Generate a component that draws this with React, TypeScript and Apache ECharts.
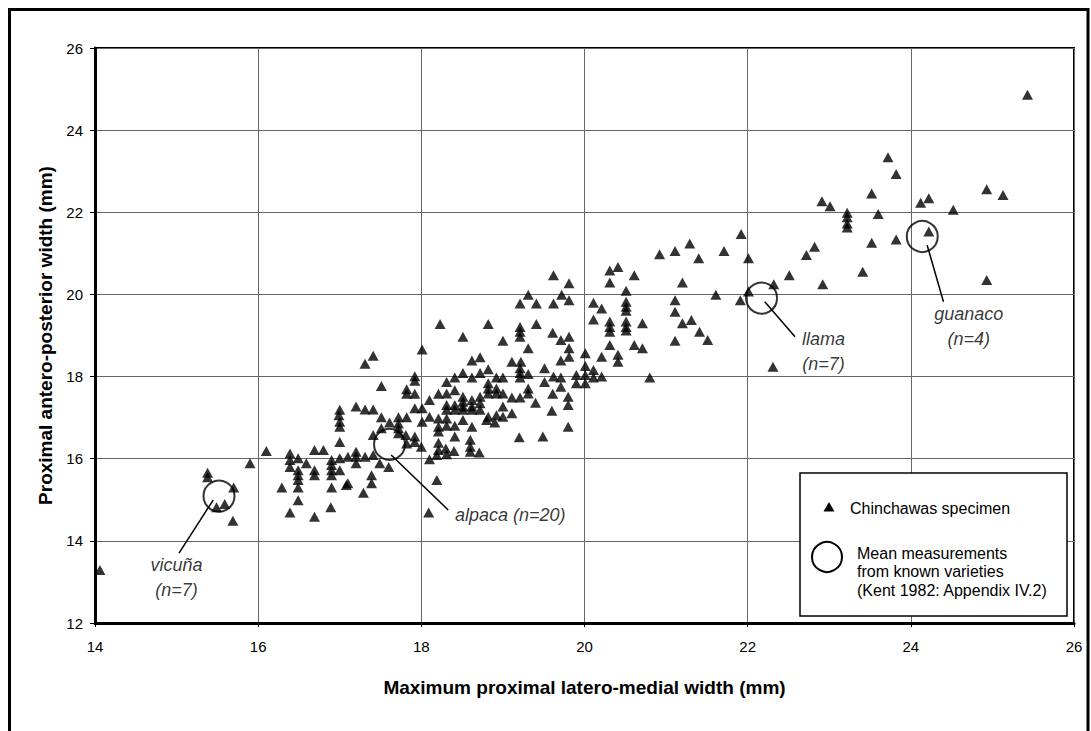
import React, { useEffect, useRef } from "react";
import * as echarts from "echarts";

// Chinchawas specimens: [max proximal latero-medial width, proximal antero-posterior width] (mm)
const specimens: [number, number][] = [
  [14.06, 13.29], [16.10, 16.19], [15.90, 15.89], [15.38, 15.55], [15.38, 15.66], [15.70, 15.30], [15.49, 14.82], [15.59, 14.90], [15.69, 14.49],
  [16.39, 16.13], [16.39, 15.97], [16.39, 15.80], [16.49, 16.01], [16.59, 15.89], [16.49, 15.72], [16.49, 15.60], [16.49, 15.48], [16.49, 15.30],
  [16.29, 15.30], [16.49, 14.99], [16.39, 14.69], [16.69, 16.21], [16.80, 16.21], [16.69, 15.72], [16.69, 15.60], [16.69, 14.59], [16.90, 15.97],
  [16.90, 15.85], [16.90, 15.72], [17.00, 16.01], [17.00, 15.72], [16.90, 15.30], [16.89, 14.82], [17.00, 17.19], [17.00, 16.90], [17.00, 16.78],
  [17.00, 16.41], [17.08, 15.36],
  [19.21, 19.78], [18.23, 19.28], [18.82, 19.28], [18.51, 18.97], [19.00, 18.87], [19.21, 19.21], [19.21, 19.09], [19.21, 18.97], [18.01, 18.66],
  [17.41, 18.51], [17.31, 18.31], [18.72, 18.47], [18.62, 18.39], [19.11, 18.36], [19.22, 18.36], [18.51, 18.09], [18.62, 17.98], [18.72, 18.09],
  [18.82, 18.18], [18.92, 17.98], [19.00, 17.98], [19.21, 18.09], [19.21, 17.98], [18.41, 17.98], [18.31, 17.87], [18.41, 17.67], [18.31, 17.59],
  [17.92, 18.01], [17.92, 17.90], [17.51, 17.77], [17.82, 17.69], [17.82, 17.58], [17.92, 17.58], [18.21, 17.58], [18.10, 17.43], [18.82, 17.84],
  [18.82, 17.71], [18.82, 17.59], [18.92, 17.71], [18.92, 17.59], [19.00, 17.59], [19.11, 17.49], [19.21, 17.49], [18.51, 17.51], [18.51, 17.39],
  [18.62, 17.43], [18.72, 17.51], [18.72, 17.35], [18.31, 17.31], [18.41, 17.31], [18.51, 17.27], [18.31, 17.19], [18.41, 17.19], [18.51, 17.19],
  [18.62, 17.27], [18.62, 17.19], [18.72, 17.19], [18.82, 17.02], [18.92, 17.06], [19.00, 17.27], [19.11, 17.11], [16.99, 17.06], [17.20, 17.27],
  [17.31, 17.20], [17.41, 17.20], [17.51, 17.01], [17.61, 16.88], [17.72, 17.01], [17.82, 17.01], [17.72, 16.86], [17.72, 16.74], [17.72, 16.62],
  [17.51, 16.74], [17.41, 16.58], [17.92, 17.23], [18.01, 17.23], [18.01, 16.90], [18.10, 17.02], [18.21, 16.98], [18.31, 16.98], [18.21, 16.78],
  [18.31, 16.80], [18.21, 16.66], [18.41, 16.80], [18.51, 16.94], [18.62, 16.78], [18.80, 16.94], [18.90, 16.88], [19.00, 17.02], [17.92, 16.54],
  [17.92, 16.41], [17.81, 16.58], [17.82, 16.37], [18.00, 16.29], [18.21, 16.39], [18.21, 16.21], [18.41, 16.54], [18.30, 16.25], [18.40, 16.19],
  [18.60, 16.46], [18.60, 16.29], [18.60, 16.17], [18.71, 16.15], [18.10, 15.99], [18.19, 16.09], [18.31, 16.11], [19.20, 16.52], [17.20, 16.17],
  [17.20, 16.05], [17.10, 16.05], [17.20, 15.89], [17.31, 16.05], [17.41, 16.09], [16.90, 15.60], [17.49, 15.89], [17.60, 15.80], [17.39, 15.60],
  [17.39, 15.40], [17.29, 15.17], [17.10, 15.40], [18.19, 15.48],
  [21.29, 21.24], [20.92, 20.98], [21.11, 21.06], [21.40, 20.88], [20.31, 20.58], [20.41, 20.67], [20.31, 20.29], [20.61, 20.47], [21.20, 20.29],
  [19.62, 20.47], [19.81, 20.27], [20.51, 20.09], [19.31, 19.99], [19.41, 19.78], [19.62, 19.78], [19.72, 19.99], [19.81, 19.86], [20.11, 19.80],
  [20.21, 19.66], [20.11, 19.39], [20.51, 19.82], [20.51, 19.70], [20.51, 19.60], [21.11, 19.86], [21.11, 19.58], [21.20, 19.30], [21.31, 19.38],
  [20.31, 19.34], [20.31, 19.21], [20.31, 19.09], [20.51, 19.34], [20.51, 19.21], [20.51, 19.12], [20.71, 19.30], [19.41, 19.28], [19.61, 19.07],
  [19.71, 18.89], [19.81, 18.97], [19.31, 18.69], [19.81, 18.69], [19.81, 18.48], [19.71, 18.39], [19.21, 18.20], [19.51, 18.20], [19.31, 18.06],
  [20.01, 18.57], [20.01, 18.26], [19.90, 18.04], [20.01, 18.04], [20.11, 18.16], [20.21, 18.00], [20.11, 17.98], [19.90, 17.84], [20.01, 17.84],
  [20.21, 18.48], [20.31, 18.77], [20.41, 18.53], [20.41, 18.36], [20.61, 18.77], [20.71, 18.69], [20.80, 17.98], [21.11, 18.87], [19.62, 18.00],
  [19.71, 17.98], [19.71, 17.75], [19.51, 17.87], [19.61, 17.58], [19.40, 17.36], [19.31, 17.59], [19.31, 17.71], [19.80, 17.51], [19.80, 17.31],
  [19.60, 17.17], [19.80, 16.78], [19.49, 16.54],
  [23.52, 22.46], [22.91, 22.27], [23.01, 22.15], [23.22, 21.99], [23.22, 21.88], [23.22, 21.73], [23.22, 21.63], [23.60, 21.96], [23.52, 21.26],
  [22.82, 21.16], [22.72, 20.96], [23.41, 20.55], [22.51, 20.47], [22.92, 20.25], [22.32, 20.25], [21.92, 21.47], [22.01, 20.88], [21.71, 21.06],
  [21.61, 19.99], [21.91, 19.86], [22.01, 20.07], [21.41, 19.09], [21.51, 18.89], [22.31, 18.24],
  [25.43, 24.86], [23.72, 23.34], [23.82, 22.93], [24.12, 22.23], [24.22, 22.34], [24.93, 22.56], [25.13, 22.42], [24.52, 22.06], [24.22, 21.53],
  [23.82, 21.34], [24.93, 20.35], [18.09, 14.69],
];

// Mean measurements from known varieties (Kent 1982)
const meanX = [15.52, 17.61, 22.17, 24.14];
const meanY = [15.09, 16.35, 19.91, 21.41];

// Annotation leader lines and labels (data coordinates)
const leaderFrom: [number, number][] = [[15.45, 15.0], [17.63, 16.09], [22.21, 19.82], [24.2, 21.2]];
const leaderTo: [number, number][] = [[15.03, 13.7], [18.33, 14.75], [22.58, 18.97], [24.4, 19.82]];
const labelText = ["vicuña\n(n=7)", "alpaca (n=20)", "llama\n(n=7)", "guanaco\n(n=4)"];
const labelX = [15.0, 19.09, 22.93, 24.71];
const labelY = [13.11, 14.63, 18.6, 19.21];

const xTicks = { min: 14, max: 26, interval: 2 };
const yTicks = { min: 12, max: 26, interval: 2 };

const FONT = '"Liberation Sans", Arial, Helvetica, sans-serif';

export default function App() {
  const ref = useRef<HTMLDivElement>(null);
  useEffect(() => {
    if (!ref.current) return;
    const chart = echarts.init(ref.current, null, { renderer: "svg" });
    chart.setOption({
      animation: false,
      backgroundColor: "#fff",
      textStyle: { fontFamily: FONT },
      grid: {
        left: 95,
        right: 17,
        top: 48,
        bottom: 108,
        show: true,
        borderColor: "#000",
        borderWidth: 2,
        backgroundColor: "transparent",
      },
      xAxis: {
        type: "value",
        min: xTicks.min,
        max: xTicks.max,
        interval: xTicks.interval,
        name: "Maximum proximal latero-medial width (mm)",
        nameLocation: "middle",
        nameGap: 55,
        nameTextStyle: { fontFamily: FONT, fontSize: 19, fontWeight: "bold", color: "#000" },
        axisLine: { show: true, onZero: false, lineStyle: { color: "#000", width: 3 } },
        axisTick: { show: true, length: 4, lineStyle: { color: "#000", width: 1 } },
        axisLabel: { fontFamily: FONT, fontSize: 15, color: "#000", margin: 16 },
        splitLine: { show: true, lineStyle: { color: "#666", width: 1 } },
      },
      yAxis: {
        type: "value",
        min: yTicks.min,
        max: yTicks.max,
        interval: yTicks.interval,
        name: "Proximal antero-posterior width (mm)",
        nameLocation: "middle",
        nameGap: 40,
        nameTextStyle: { fontFamily: FONT, fontSize: 19, fontWeight: "bold", color: "#000" },
        axisLine: { show: true, onZero: false, lineStyle: { color: "#000", width: 3 } },
        axisTick: { show: true, length: 5, lineStyle: { color: "#000", width: 1 } },
        axisLabel: { fontFamily: FONT, fontSize: 15, color: "#000", margin: 12 },
        splitLine: { show: true, lineStyle: { color: "#666", width: 1 } },
      },
      series: [
        {
          name: "Chinchawas specimen",
          type: "scatter",
          symbol: "triangle",
          symbolSize: [11, 10],
          itemStyle: { color: "#000" },
          data: specimens,
          z: 3,
        },
        {
          name: "Mean measurements",
          type: "scatter",
          symbol: "circle",
          symbolSize: 31,
          itemStyle: { color: "rgba(0,0,0,0)", borderColor: "#000", borderWidth: 2 },
          data: meanX.map((x, i) => [x, meanY[i]]),
          z: 4,
        },
        {
          name: "leaders",
          type: "lines",
          coordinateSystem: "cartesian2d",
          lineStyle: { color: "#000", width: 1.5, opacity: 1 },
          data: leaderFrom.map((p, i) => ({ coords: [p, leaderTo[i]] })),
          z: 4,
        },
        {
          name: "labels",
          type: "scatter",
          symbolSize: 1,
          itemStyle: { color: "rgba(0,0,0,0)" },
          label: {
            show: true,
            position: "inside",
            formatter: (p: any) => p.name,
            fontFamily: FONT,
            fontStyle: "italic",
            fontSize: 18,
            lineHeight: 25,
            color: "#000",
            align: "center",
          },
          data: labelText.map((t, i) => ({ name: t, value: [labelX[i], labelY[i]] })),
          z: 5,
        },
      ],
      graphic: [
        { type: "line", z: 100, shape: { x1: 9.5, y1: 8, x2: 9.5, y2: 731 }, style: { stroke: "#000", lineWidth: 3 } },
        { type: "line", z: 100, shape: { x1: 8, y1: 9.5, x2: 1089, y2: 9.5 }, style: { stroke: "#000", lineWidth: 3 } },
        { type: "line", z: 100, shape: { x1: 1088, y1: 8, x2: 1088, y2: 731 }, style: { stroke: "#000", lineWidth: 3 } },
        {
          type: "rect",
          z: 100,
          shape: { x: 800, y: 473, width: 267, height: 143 },
          style: { fill: "#fff", stroke: "#000", lineWidth: 1.5 },
        },
        {
          type: "polygon",
          z: 101,
          shape: { points: [[829, 502], [834.5, 511.5], [823.5, 511.5]] },
          style: { fill: "#000" },
        },
        {
          type: "text",
          z: 101,
          x: 850,
          y: 508,
          style: { text: "Chinchawas specimen", font: `16px ${FONT}`, fill: "#000", verticalAlign: "middle" },
        },
        {
          type: "circle",
          z: 101,
          shape: { cx: 827, cy: 557, r: 15 },
          style: { fill: "none", stroke: "#000", lineWidth: 2 },
        },
        {
          type: "text",
          z: 101,
          x: 857,
          y: 544,
          style: {
            text: "Mean measurements\nfrom known varieties\n(Kent 1982: Appendix IV.2)",
            font: `16px ${FONT}`,
            lineHeight: 18.5,
            fill: "#000",
            verticalAlign: "top",
          },
        },
      ],
    });
    return () => chart.dispose();
  }, []);
  return (
    <div
      ref={ref}
      style={{ position: "fixed", left: 0, top: 0, width: 1091, height: 731, background: "#fff" }}
    />
  );
}
